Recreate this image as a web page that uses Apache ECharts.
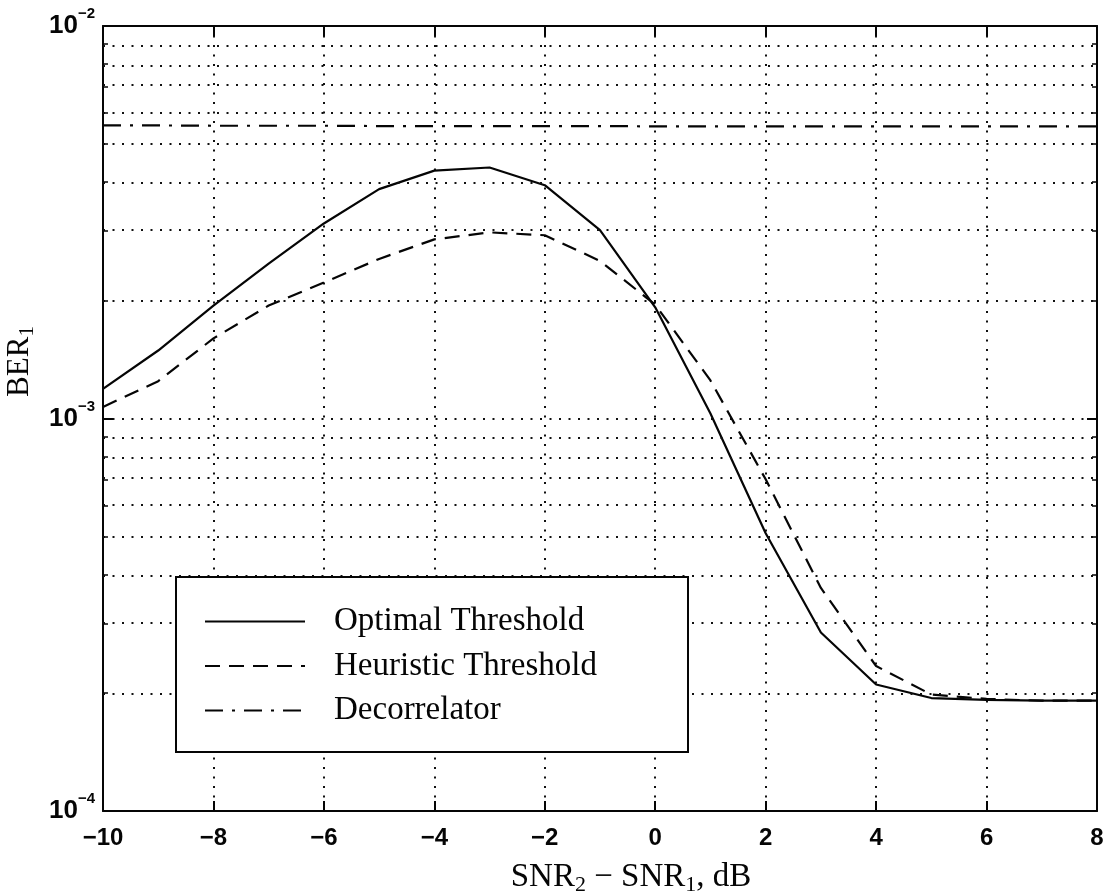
<!DOCTYPE html>
<html>
<head>
<meta charset="utf-8">
<title>BER1 vs SNR difference</title>
<script src="https://cdn.jsdelivr.net/npm/echarts@6/dist/echarts.min.js"></script>
<style>
  html, body { margin: 0; padding: 0; background: #fff; }
  #chart { width: 1115px; height: 896px; }
</style>
</head>
<body>
<div id="chart"></div>
<script>
// SNR2 - SNR1 in dB
const snrDiff = [-10, -9, -8, -7, -6, -5, -4, -3, -2, -1, 0, 1, 2, 3, 4, 5, 6, 7, 8];

// Bit error rate of user 1 for each detector
const optimalBer = [1.19e-3, 1.49e-3, 1.94e-3, 2.48e-3, 3.14e-3, 3.84e-3, 4.28e-3, 4.36e-3, 3.93e-3, 3.02e-3,
                    1.92e-3, 1.03e-3, 5.1e-4, 2.85e-4, 2.1e-4, 1.94e-4, 1.92e-4, 1.91e-4, 1.91e-4];
const heuristicBer = [1.07e-3, 1.245e-3, 1.6e-3, 1.94e-3, 2.22e-3, 2.55e-3, 2.86e-3, 2.98e-3, 2.93e-3, 2.52e-3,
                      1.95e-3, 1.25e-3, 7.0e-4, 3.7e-4, 2.34e-4, 1.98e-4, 1.93e-4, 1.91e-4, 1.91e-4];
const decorrelatorBer = [5.58e-3, 5.58e-3, 5.57e-3, 5.57e-3, 5.57e-3, 5.56e-3, 5.56e-3, 5.56e-3, 5.56e-3, 5.56e-3,
                         5.55e-3, 5.55e-3, 5.55e-3, 5.55e-3, 5.55e-3, 5.55e-3, 5.55e-3, 5.55e-3, 5.55e-3];

const seriesNames = ['Optimal Threshold', 'Heuristic Threshold', 'Decorrelator'];

// axis ranges and tick values
const xRange = [-10, 8];
const xStep = 2;
const yRange = [1e-4, 1e-2];
const yMinorValues = [2e-4, 3e-4, 4e-4, 5e-4, 6e-4, 7e-4, 8e-4, 9e-4,
                      2e-3, 3e-3, 4e-3, 5e-3, 6e-3, 7e-3, 8e-3, 9e-3];

const INK = '#050505';
const dotted = { color: '#111', width: 2, type: [2, 7.5] };
const sansNum = { fontFamily: 'Liberation Sans', fontWeight: 'bold', color: INK };
const serif = 'Liberation Serif';

const pairs = (ys) => snrDiff.map((x, i) => [x, ys[i]]);
// minor gridlines live on a linear axis of decade exponents
const minorExponents = yMinorValues.map(v => Math.log10(v));

const frameLine = { show: true, onZero: false, lineStyle: { color: INK, width: 2 } };
const majorTick = { show: true, inside: true, length: 10, lineStyle: { color: INK, width: 2 } };
const minorTickStyle = { show: true, inside: true, length: 5, lineStyle: { color: INK, width: 1.5 },
                         customValues: minorExponents };

const chart = echarts.init(document.getElementById('chart'));

chart.setOption({
  animation: false,
  backgroundColor: '#fff',
  grid: { left: 103, right: 18, top: 26, bottom: 85, containLabel: false, outerBoundsMode: 'none' },
  legend: {
    orient: 'vertical',
    left: 176,
    top: 577,
    padding: [28, 86, 25, 28],
    itemWidth: 100,
    itemHeight: 14,
    itemGap: 11.5,
    backgroundColor: '#fff',
    borderColor: INK,
    borderWidth: 2,
    borderRadius: 0,
    z: 10,
    data: seriesNames,
    itemStyle: { opacity: 0 },
    textStyle: {
      fontFamily: serif, fontSize: 33, color: INK,
      width: 268, lineHeight: 30, padding: [0, 0, 0, 24]
    }
  },
  xAxis: [
    {
      type: 'value', position: 'bottom',
      min: xRange[0], max: xRange[1], interval: xStep,
      axisLine: frameLine,
      axisTick: majorTick,
      axisLabel: {
        ...sansNum, fontSize: 24, margin: 15,
        formatter: v => (v < 0 ? '\u2212' + (-v) : String(v))
      },
      splitLine: { show: true, lineStyle: dotted },
      name: '{n|SNR}{sub|2}{n| \u2212 SNR}{sub|1}{n|, dB}',
      nameLocation: 'middle',
      nameGap: 47,
      nameTextStyle: {
        padding: [0, 0, 0, 62],
        rich: {
          n: { fontFamily: serif, fontSize: 33, color: INK },
          sub: { fontFamily: serif, fontSize: 22, color: INK, padding: [16, 0, 0, 0] }
        }
      }
    },
    {
      type: 'value', position: 'top',
      min: xRange[0], max: xRange[1], interval: xStep,
      axisLine: frameLine,
      axisTick: majorTick,
      axisLabel: { show: false },
      splitLine: { show: false }
    }
  ],
  yAxis: [
    {
      type: 'log', logBase: 10, position: 'left',
      min: yRange[0], max: yRange[1],
      axisLine: frameLine,
      axisTick: majorTick,
      axisLabel: {
        margin: 8,
        formatter: v => '{b|10}{s|\u2212' + Math.round(-Math.log10(v)) + '}',
        rich: {
          b: { ...sansNum, fontSize: 26 },
          s: { ...sansNum, fontSize: 15, padding: [0, 0, 24, 0] }
        }
      },
      splitLine: { show: true, lineStyle: dotted },
      name: '{n|BER}{sub|1}',
      nameLocation: 'middle',
      nameRotate: 90,
      nameGap: 43,
      nameTextStyle: {
        padding: [0, 0, 0, 114],
        rich: {
          n: { fontFamily: serif, fontSize: 31, color: INK },
          sub: { fontFamily: serif, fontSize: 21, color: INK, padding: [16, 0, 0, 0] }
        }
      }
    },
    {
      type: 'log', logBase: 10, position: 'right',
      min: yRange[0], max: yRange[1],
      axisLine: frameLine,
      axisTick: majorTick,
      axisLabel: { show: false },
      splitLine: { show: false }
    },
    {
      type: 'value', position: 'left',
      min: Math.log10(yRange[0]), max: Math.log10(yRange[1]),
      axisLine: { show: false, onZero: false },
      axisTick: minorTickStyle,
      axisLabel: { show: false },
      splitLine: { show: false }
    },
    {
      type: 'value', position: 'right',
      min: Math.log10(yRange[0]), max: Math.log10(yRange[1]),
      axisLine: { show: false, onZero: false },
      axisTick: minorTickStyle,
      axisLabel: { show: false },
      splitLine: { show: false }
    }
  ],
  series: [
    {
      name: seriesNames[0], type: 'line', xAxisIndex: 0, yAxisIndex: 0,
      data: pairs(optimalBer), symbol: 'none', smooth: false, z: 3,
      lineStyle: { color: INK, width: 2.2, type: 'solid' },
      itemStyle: { color: INK },
      emphasis: { disabled: true }
    },
    {
      name: seriesNames[1], type: 'line', xAxisIndex: 0, yAxisIndex: 0,
      data: pairs(heuristicBer), symbol: 'none', smooth: false, z: 3,
      lineStyle: { color: INK, width: 2.2, type: [15, 9] },
      itemStyle: { color: INK },
      emphasis: { disabled: true }
    },
    {
      name: seriesNames[2], type: 'line', xAxisIndex: 0, yAxisIndex: 0,
      data: pairs(decorrelatorBer), symbol: 'none', smooth: false, z: 3,
      lineStyle: { color: INK, width: 2.2, type: [18, 9, 3, 9] },
      itemStyle: { color: INK },
      emphasis: { disabled: true }
    },
    {
      // dotted minor gridlines at 2..9 of each decade
      name: 'minor-grid', type: 'line', xAxisIndex: 0, yAxisIndex: 2,
      data: [], symbol: 'none', z: 1, silent: true,
      markLine: {
        silent: true,
        symbol: ['none', 'none'],
        label: { show: false },
        lineStyle: dotted,
        emphasis: { disabled: true },
        animation: false,
        data: minorExponents.map(v => ({ yAxis: v }))
      }
    }
  ]
});
</script>
</body>
</html>
